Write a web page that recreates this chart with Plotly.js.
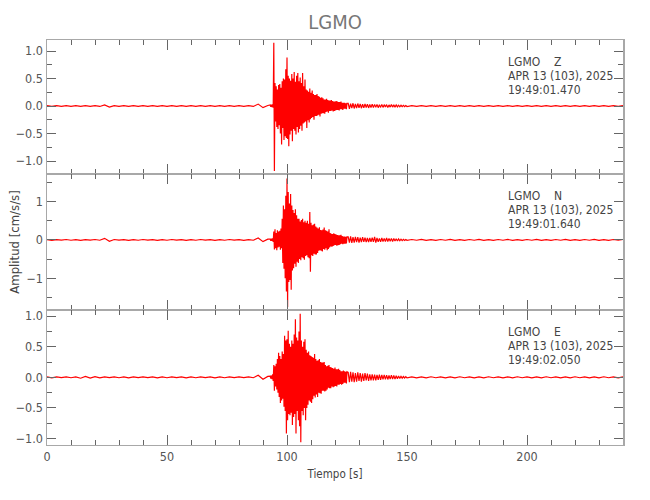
<!DOCTYPE html>
<html>
<head>
<meta charset="utf-8">
<script src="https://cdn.plot.ly/plotly-3.0.1.min.js"></script>
<style>html,body{margin:0;padding:0;background:#fff;}</style>
</head>
<body>
<div id="chart" style="width:650px;height:500px;"></div>
<script>
// ---- recording sampling (seconds) ----
const preStart = 0,    preStep = 2;
const codaStart = 93,  codaStep = 0.25;
const tailStart = 125.5, tailStep = 0.5;
const postStart = 152, postStep = 2;

// ---- channel labels ----
const station = 'LGMO';
const channels = ['Z', 'N', 'E'];
const dateText = 'APR 13 (103), 2025';
const startTimes = ['19:49:01.470', '19:49:01.640', '19:49:02.050'];

// ---- Z component (cm/s/s) ----
const zPre = [0.006,-0.007,0.008,-0.006,0.007,-0.008,0.006,-0.007,0.008,-0.006,
  0.007,-0.008,0.02,-0.018,0.007,-0.006,0.008,-0.007,0.006,-0.008,
  0.007,-0.006,0.008,-0.007,0.006,-0.008,0.007,-0.006,0.008,-0.007,
  0.006,-0.008,0.007,-0.006,0.008,-0.007,0.006,-0.008,0.007,-0.006,
  0.008,-0.007,0.006,-0.008,0.035,-0.03,0.01];
const zCoda = [0.02,-0.015,0.025,-0.02, 0.03,-0.03,1.15,-1.18,
  0.42,-0.28,0.36,-0.38, 0.30,-0.42,0.38,-0.35, 0.40,-0.50,0.33,-0.70,
  0.45,-0.40,0.50,-0.62, 0.48,-0.55,0.67,-0.58, 0.88,-0.60,0.55,-0.73,
  0.50,-0.52,0.46,-0.45, 0.58,-0.64,0.50,-0.42, 0.62,-0.45,0.44,-0.52,
  0.55,-0.38,0.60,-0.48, 0.45,-0.42,0.52,-0.36, 0.42,-0.45,0.60,-0.32,
  0.36,-0.30,0.48,-0.28, 0.30,-0.40,0.28,-0.26, 0.26,-0.30,0.32,-0.24,
  0.24,-0.22,0.28,-0.20, 0.22,-0.25,0.20,-0.18, 0.20,-0.18,0.22,-0.17,
  0.18,-0.16,0.17,-0.19, 0.15,-0.14,0.16,-0.13, 0.14,-0.13,0.12,-0.14,
  0.12,-0.11,0.13,-0.10, 0.11,-0.12,0.10,-0.09, 0.10,-0.09,0.11,-0.08,
  0.09,-0.10,0.08,-0.09, 0.08,-0.08,0.09,-0.07, 0.08,-0.07,0.07,-0.08,
  0.07,-0.06,0.08,-0.06, 0.06,-0.07,0.06,-0.05, 0.06,-0.05,0.05,-0.06,
  0.05];
const zTail = [0.05,-0.05,0.045,-0.04,0.05,-0.045,0.04,-0.04,0.045,-0.035,
  0.04,-0.04,0.035,-0.035,0.04,-0.03,0.035,-0.035,0.03,-0.03,
  0.035,-0.03,0.03,-0.025,0.03,-0.03,0.025,-0.025,0.03,-0.025,
  0.025,-0.02,0.025,-0.025,0.02,-0.02,0.025,-0.02,0.02,-0.02,
  0.018,-0.016,0.015,-0.014,0.013,-0.012,0.011,-0.01,0.01,-0.009];
const zPost = [0.008,-0.007,0.006,-0.008,0.007,-0.006,0.008,-0.007,0.006,-0.008,
  0.007,-0.006,0.008,-0.007,0.006,-0.008,0.007,-0.006,0.008,-0.007,
  0.006,-0.008,0.007,-0.006,0.008,-0.007,0.006,-0.008,0.007,-0.006,
  0.008,-0.007,0.006,-0.008,0.007,-0.006,0.008,-0.007,0.006,-0.008,
  0.007,-0.006,0.008,-0.007,0.006];

// ---- N component ----
const nPre = [0.008,-0.01,0.009,-0.008,0.01,-0.009,0.008,-0.01,0.009,-0.008,
  0.01,-0.009,0.04,-0.035,0.01,-0.008,0.009,-0.01,0.008,-0.009,
  0.01,-0.008,0.009,-0.01,0.008,-0.009,0.01,-0.008,0.009,-0.01,
  0.008,-0.009,0.01,-0.008,0.009,-0.01,0.008,-0.009,0.01,-0.008,
  0.009,-0.01,0.008,-0.009,0.05,-0.045,0.02];
const nCoda = [0.02,-0.02,0.03,-0.025, 0.04,-0.05,0.22,-0.25,
  0.28,-0.22,0.18,-0.27, 0.25,-0.20,0.22,-0.18, 0.24,-0.26,0.30,-0.22,
  0.55,-0.60,0.90,-0.75, 0.80,-1.00,1.15,-1.35, 1.60,-1.75,1.25,-1.10,
  0.95,-1.05,1.20,-1.30, 0.90,-0.80,0.78,-0.74, 0.70,-0.62,0.80,-0.70,
  0.64,-0.57,0.55,-0.60, 0.55,-0.50,0.48,-0.53, 0.52,-0.45,0.55,-0.48,
  0.46,-0.52,0.50,-0.42, 0.45,-0.40,0.50,-0.45, 0.42,-0.48,0.73,-0.83,
  0.45,-0.40,0.38,-0.42, 0.40,-0.36,0.42,-0.38, 0.35,-0.38,0.32,-0.34,
  0.30,-0.28,0.33,-0.27, 0.26,-0.28,0.25,-0.30, 0.27,-0.24,0.32,-0.26,
  0.25,-0.22,0.24,-0.27, 0.22,-0.24,0.28,-0.20, 0.18,-0.17,0.16,-0.18,
  0.15,-0.16,0.17,-0.14, 0.15,-0.13,0.14,-0.15, 0.13,-0.14,0.12,-0.13,
  0.12,-0.11,0.13,-0.10, 0.10,-0.11,0.09,-0.10, 0.09,-0.10,0.08,-0.09,
  0.08];
const nTail = [0.08,-0.07,0.09,-0.08,0.07,-0.07,0.08,-0.06,0.07,-0.07,
  0.06,-0.06,0.07,-0.05,0.06,-0.06,0.05,-0.06,0.05,-0.05,
  0.06,-0.05,0.08,-0.07,0.05,-0.05,0.04,-0.05,0.05,-0.04,
  0.04,-0.04,0.05,-0.04,0.04,-0.035,0.04,-0.04,0.035,-0.03,
  0.03,-0.028,0.025,-0.022,0.02,-0.018,0.016,-0.014,0.012,-0.011];
const nPost = [0.01,-0.009,0.011,-0.01,0.009,-0.011,0.01,-0.009,0.011,-0.01,
  0.009,-0.011,0.01,-0.009,0.011,-0.01,0.009,-0.011,0.01,-0.009,
  0.011,-0.01,0.009,-0.011,0.01,-0.009,0.011,-0.01,0.009,-0.011,
  0.01,-0.009,0.011,-0.01,0.009,-0.011,0.01,-0.009,0.011,-0.01,
  0.009,-0.011,0.01,-0.009,0.01];

// ---- E component ----
const ePre = [0.006,-0.008,0.007,-0.006,0.008,-0.007,0.006,-0.015,0.016,-0.014,
  0.012,-0.008,0.007,-0.006,0.008,-0.007,0.006,-0.008,0.007,-0.006,
  0.008,-0.006,0.007,-0.008,0.006,-0.007,0.008,-0.006,0.007,-0.008,
  0.006,-0.007,0.008,-0.006,0.007,-0.008,0.006,-0.007,0.008,-0.006,
  0.007,-0.006,0.008,-0.007,0.035,-0.03,0.015];
const eCoda = [0.02,-0.02,0.03,-0.03, 0.05,-0.06,0.20,-0.22,
  0.18,-0.15,0.22,-0.20, 0.30,-0.25,0.40,-0.32, 0.35,-0.42,0.30,-0.38,
  0.42,-0.35,0.38,-0.48, 0.68,-0.55,0.60,-0.92, 0.62,-0.70,0.76,-0.60,
  0.55,-0.62,0.50,-0.58, 0.60,-0.78,0.55,-0.65, 0.70,-0.60,0.95,-0.92,
  0.65,-0.55,0.60,-0.70, 0.75,-0.80,1.04,-1.06, 0.60,-0.55,0.50,-0.62,
  0.58,-0.50,0.62,-0.70, 0.45,-0.50,0.40,-0.45, 0.42,-0.38,0.36,-0.40,
  0.35,-0.42,0.33,-0.36, 0.32,-0.30,0.38,-0.33, 0.30,-0.28,0.27,-0.32,
  0.28,-0.25,0.30,-0.26, 0.25,-0.27,0.24,-0.22, 0.24,-0.22,0.25,-0.23,
  0.20,-0.22,0.18,-0.20, 0.19,-0.17,0.20,-0.18, 0.17,-0.18,0.16,-0.15,
  0.15,-0.16,0.14,-0.15, 0.16,-0.14,0.13,-0.15, 0.13,-0.12,0.14,-0.12,
  0.12,-0.11,0.10,-0.12, 0.10,-0.11,0.11,-0.09, 0.10,-0.09,0.09,-0.10,
  0.09];
const eTail = [0.08,-0.08,0.09,-0.07,0.08,-0.08,0.07,-0.07,0.08,-0.06,
  0.07,-0.07,0.06,-0.06,0.07,-0.05,0.06,-0.06,0.05,-0.05,
  0.05,-0.05,0.045,-0.05,0.04,-0.04,0.045,-0.04,0.04,-0.035,
  0.04,-0.035,0.035,-0.035,0.03,-0.03,0.035,-0.03,0.03,-0.03,
  0.025,-0.022,0.02,-0.018,0.016,-0.014,0.012,-0.011,0.01,-0.009];
const ePost = [0.008,-0.009,0.007,-0.008,0.009,-0.007,0.008,-0.009,0.007,-0.008,
  0.009,-0.007,0.008,-0.009,0.007,-0.008,0.009,-0.007,0.008,-0.009,
  0.007,-0.008,0.009,-0.007,0.008,-0.009,0.007,-0.008,0.009,-0.007,
  0.008,-0.009,0.007,-0.008,0.009,-0.007,0.008,-0.009,0.007,-0.008,
  0.009,-0.007,0.008,-0.009,0.008];

// ---- assemble each channel from its sampled segments ----
function assemble(pre, coda, tail, post) {
  const x = [], y = [];
  const segs = [[preStart, preStep, pre], [codaStart, codaStep, coda],
                [tailStart, tailStep, tail], [postStart, postStep, post]];
  segs.forEach(([t0, dt, vals]) => vals.forEach((v, i) => { x.push(t0 + i * dt); y.push(v); }));
  return {x, y};
}
const series = [assemble(zPre, zCoda, zTail, zPost),
                assemble(nPre, nCoda, nTail, nPost),
                assemble(ePre, eCoda, eTail, ePost)];

const font = 'DejaVu Sans Condensed, DejaVu Sans, sans-serif';
const axisLine = '#a8a8a8', tickCol = '#666666', labCol = '#555555';

const traces = series.map((s, k) => ({
  type: 'scatter', mode: 'lines', x: s.x, y: s.y,
  xaxis: k === 0 ? 'x' : 'x' + (k + 1), yaxis: k === 0 ? 'y' : 'y' + (k + 1),
  line: {color: '#ff0000', width: 1.2}, hoverinfo: 'skip', showlegend: false
}));

// layout geometry in px (plot area 40..445 vertically)
const plotTop = 40, plotBottom = 445;
const panelTops = [40, 174, 310];
const panelBottoms = [174, 310, 445];
const toPaper = py => (plotBottom - py) / (plotBottom - plotTop);

function xAxis(k) {
  return {
    domain: [0, 1], range: [0, 240], anchor: k === 0 ? 'y' : 'y' + (k + 1),
    matches: k === 0 ? undefined : 'x',
    showline: true, linecolor: axisLine, linewidth: 1, mirror: 'ticks',
    ticks: 'inside', ticklen: 10, tickwidth: 1, tickcolor: tickCol,
    dtick: 50, tick0: 0, showgrid: false, zeroline: false,
    showticklabels: k === 2,
    tickfont: {family: font, size: 12.5, color: labCol},
    minor: {dtick: 10, ticks: 'inside', ticklen: 5, tickwidth: 1, tickcolor: tickCol, showgrid: false}
  };
}
function yAxis(k, range, dtick, mdtick, fmt) {
  return {
    domain: [toPaper(panelBottoms[k]), toPaper(panelTops[k])], range: range,
    anchor: k === 0 ? 'x' : 'x' + (k + 1),
    showline: true, linecolor: axisLine, linewidth: 1.5, mirror: 'ticks',
    ticks: 'inside', ticklen: 9, tickwidth: 1, tickcolor: tickCol,
    dtick: dtick, tick0: 0, tickformat: fmt, showgrid: false, zeroline: false,
    tickfont: {family: font, size: 12.5, color: labCol},
    minor: {dtick: mdtick, ticks: 'inside', ticklen: 5, tickwidth: 1, tickcolor: tickCol, showgrid: false}
  };
}

const annotations = [];
const lineOffsets = [22, 36, 50];
channels.forEach((c, k) => {
  const lines = [station + '\u00a0\u00a0\u00a0\u00a0' + c, dateText, startTimes[k]];
  lines.forEach((txt, j) => annotations.push({
    xref: 'paper', yref: 'paper', x: (506 - 47) / 576, y: toPaper(panelTops[k] + lineOffsets[j]),
    xanchor: 'left', yanchor: 'middle', showarrow: false, text: txt,
    font: {family: font, size: 12, color: '#444444'}
  }));
});

const layout = {
  width: 650, height: 500,
  margin: {l: 47, r: 27, t: 40, b: 55},
  paper_bgcolor: '#ffffff', plot_bgcolor: '#ffffff',
  title: {text: station, x: 0.5, xref: 'paper', xanchor: 'center', y: 1 - 22 / 500, yref: 'container', yanchor: 'middle',
          font: {family: font, size: 20, color: '#777777'}},
  xaxis: xAxis(0), xaxis2: xAxis(1),
  xaxis3: Object.assign(xAxis(2), {title: {text: 'Tiempo [s]', standoff: 6, font: {family: font, size: 11.5, color: '#444444'}}}),
  yaxis: yAxis(0, [-1.236, 1.2], 0.5, 0.25, '.1f'),
  yaxis2: Object.assign(yAxis(1, [-1.83, 1.72], 1, 0.5, 'd'),
    {title: {text: 'Amplitud [cm/s/s]', standoff: 4, font: {family: font, size: 13, color: '#444444'}}}),
  yaxis3: yAxis(2, [-1.106, 1.10], 0.5, 0.25, '.1f'),
  annotations: annotations,
  showlegend: false
};

Plotly.newPlot('chart', traces, layout, {displayModeBar: false, staticPlot: true});
</script>
</body>
</html>
